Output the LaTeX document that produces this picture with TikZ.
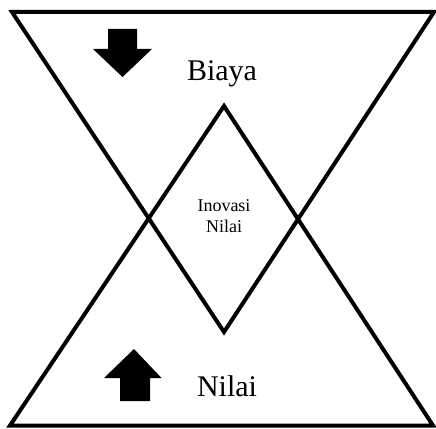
\documentclass[tikz,border=0pt]{standalone}
\usepackage{fontspec}
\setmainfont{Liberation Serif}
\begin{document}
\begin{tikzpicture}[x=1pt,y=-1pt,
  tri/.style={draw=black,line width=4pt,line join=miter},
  blockarrow/.style={fill=black},
  bigtxt/.style={anchor=base,inner sep=0pt,font=\fontsize{30}{34}\selectfont},
  smalltxt/.style={anchor=base,inner sep=0pt,font=\fontsize{18}{21}\selectfont}]
\useasboundingbox (0,0) rectangle (436,428);
% top (inverted) triangle
\draw[tri] (12,12) -- (434,12) -- (224,332) -- cycle;
% bottom triangle
\draw[tri] (10,425.5) -- (433,425.5) -- (224,106) -- cycle;
% down arrow
\fill[blockarrow] (108,29) -- (137,29) -- (137,49) -- (152,49) -- (122.5,77) -- (93,49) -- (108,49) -- cycle;
% up arrow
\fill[blockarrow] (120,401) -- (150,401) -- (150,378) -- (161.5,378) -- (134,349) -- (104,378) -- (120,378) -- cycle;
% texts
\node[bigtxt] (biaya) at (222,80) {Biaya};
\node[bigtxt] (nilai) at (227,396) {Nilai};
\node[smalltxt] (inov) at (224,211) {Inovasi};
\node[smalltxt] (inovn) at (224,232) {Nilai};
\end{tikzpicture}
\end{document}
